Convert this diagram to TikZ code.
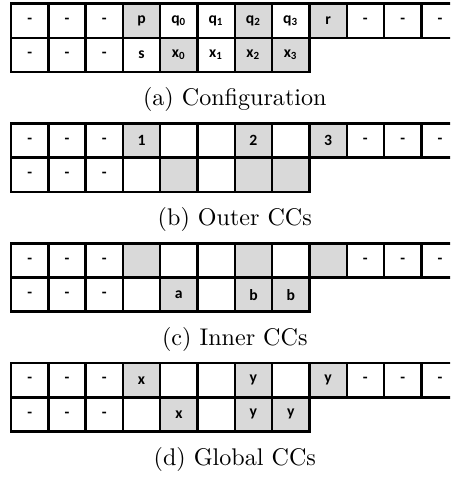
\documentclass[tikz,border=0pt]{standalone}
\usepackage{fontspec}
\newfontfamily\cellfont{Carlito}
\tikzstyle{cell} = [draw=black, line width=1pt, rectangle, inner sep=0,
    minimum width=15.48pt, minimum height=14.19pt,
    font=\cellfont\bfseries\fontsize{6.5}{7}\selectfont]
\tikzstyle{plain} = [fill=white]
\tikzstyle{shaded} = [fill=black!15]
\tikzstyle{subcap} = [font=\normalsize]

\begin{document}
\begin{tikzpicture}[x=0.415pt, y=-0.415pt]
    \clip (0,0) rectangle (450,477);
    % (a) configuration
    \foreach \t/\s [count=\i] in {-/plain, -/plain, -/plain, p/shaded,
        q\textsubscript{0}/plain, q\textsubscript{1}/plain, q\textsubscript{2}/shaded,
        q\textsubscript{3}/plain, r/shaded, -/plain, -/plain, -/plain}
        \node[cell, \s] (a-1-\i) at ({11+37.3*(\i-0.5)}, 20.8) {\t};
    \foreach \t/\s [count=\i] in {-/plain, -/plain, -/plain, s/plain,
        x\textsubscript{0}/shaded, x\textsubscript{1}/plain, x\textsubscript{2}/shaded,
        x\textsubscript{3}/shaded}
        \node[cell, \s] (a-2-\i) at ({11+37.3*(\i-0.5)}, 55.0) {\t};
    \node[subcap] (cap-a) at (234.8, 99.7) {(a) Configuration};
    % (b) outer
    \foreach \t/\s [count=\i] in {-/plain, -/plain, -/plain, 1/shaded, {}/plain,
        {}/plain, 2/shaded, {}/plain, 3/shaded, -/plain, -/plain, -/plain}
        \node[cell, \s] (b-1-\i) at ({11+37.3*(\i-0.5)}, 140.6) {\t};
    \foreach \t/\s [count=\i] in {-/plain, -/plain, -/plain, {}/plain, {}/shaded,
        {}/plain, {}/shaded, {}/shaded}
        \node[cell, \s] (b-2-\i) at ({11+37.3*(\i-0.5)}, 174.8) {\t};
    \node[subcap] (cap-b) at (234.8, 219.5) {(b) Outer CCs};
    % (c) inner
    \foreach \t/\s [count=\i] in {-/plain, -/plain, -/plain, {}/shaded, {}/plain,
        {}/plain, {}/shaded, {}/plain, {}/shaded, -/plain, -/plain, -/plain}
        \node[cell, \s] (c-1-\i) at ({11+37.3*(\i-0.5)}, 260.4) {\t};
    \foreach \t/\s [count=\i] in {-/plain, -/plain, -/plain, {}/plain, a/shaded,
        {}/plain, b/shaded, b/shaded}
        \node[cell, \s] (c-2-\i) at ({11+37.3*(\i-0.5)}, 294.6) {\t};
    \node[subcap] (cap-c) at (234.8, 339.3) {(c) Inner CCs};
    % (d) global
    \foreach \t/\s [count=\i] in {-/plain, -/plain, -/plain, x/shaded, {}/plain,
        {}/plain, y/shaded, {}/plain, y/shaded, -/plain, -/plain, -/plain}
        \node[cell, \s] (d-1-\i) at ({11+37.3*(\i-0.5)}, 380.2) {\t};
    \foreach \t/\s [count=\i] in {-/plain, -/plain, -/plain, {}/plain, x/shaded,
        {}/plain, y/shaded, y/shaded}
        \node[cell, \s] (d-2-\i) at ({11+37.3*(\i-0.5)}, 414.4) {\t};
    \node[subcap] (cap-d) at (234.8, 459.1) {(d) Global CCs};
\end{tikzpicture}
\end{document}
